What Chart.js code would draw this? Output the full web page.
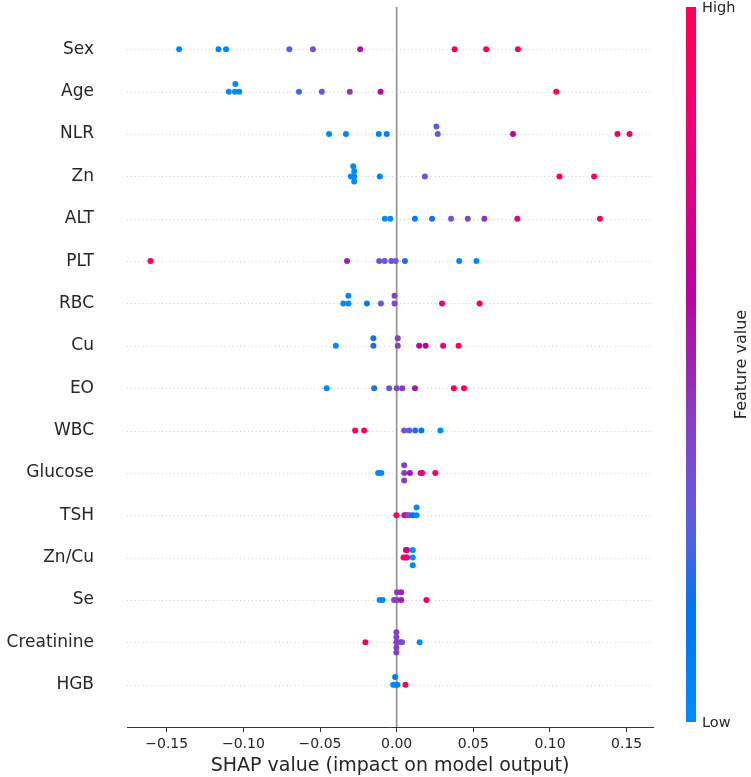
<!DOCTYPE html>
<html>
<head>
<meta charset="utf-8">
<title>SHAP summary</title>
<script src="https://cdn.jsdelivr.net/npm/chart.js@4.4.1/dist/chart.umd.min.js"></script>
<style>
  html, body { margin: 0; padding: 0; background: #fff; }
  #shapChart { display: block; }
</style>
</head>
<body>
<canvas id="shapChart" width="751" height="777"></canvas>
<script>
// feature order, top to bottom
const features = ['Sex', 'Age', 'NLR', 'Zn', 'ALT', 'PLT', 'RBC', 'Cu', 'EO', 'WBC',
                  'Glucose', 'TSH', 'Zn/Cu', 'Se', 'Creatinine', 'HGB'];

// SHAP values (x) and scaled feature values (0 = low, 1 = high) per feature
const sexShap = [-0.1419, -0.1162, -0.1113, -0.0700, -0.0546, -0.0238, 0.0378, 0.0584, 0.0791];
const sexFeat = [0, 0.02, 0.02, 0.28, 0.35, 0.55, 1, 1, 1];

const ageShap = [-0.1095, -0.1055, -0.1052, -0.1027, -0.0637, -0.0488, -0.0306, -0.0105, 0.1041];
const ageFeat = [0, 0, 0, 0, 0.22, 0.33, 0.45, 0.58, 1];

const nlrShap = [-0.0441, -0.0331, -0.0117, -0.0065, 0.0268, 0.0259, 0.0759, 0.1440, 0.1519];
const nlrFeat = [0, 0.03, 0.05, 0.08, 0.3, 0.28, 0.65, 0.95, 1];

const znShap = [-0.0299, -0.0277, -0.0277, -0.0277, -0.0283, -0.0110, 0.0184, 0.1062, 0.1288];
const znFeat = [0, 0, 0, 0, 0, 0.05, 0.3, 1, 0.95];

const altShap = [-0.0077, -0.0042, 0.0119, 0.0231, 0.0355, 0.0464, 0.0572, 0.0787, 0.1326];
const altFeat = [0, 0, 0.08, 0.2, 0.3, 0.38, 0.45, 0.8, 1];

const pltShap = [-0.1606, -0.0324, -0.0114, -0.0078, -0.0035, -0.0007, 0.0054, 0.0408, 0.0520];
const pltFeat = [1, 0.5, 0.3, 0.3, 0.33, 0.3, 0.2, 0.02, 0];

const rbcShap = [-0.0348, -0.0315, -0.0315, -0.0194, -0.0103, -0.0014, -0.0014, 0.0296, 0.0541];
const rbcFeat = [0, 0, 0, 0.1, 0.28, 0.4, 0.4, 0.8, 1];

const cuShap = [-0.0397, -0.0152, -0.0152, 0.0007, 0.0007, 0.0147, 0.0189, 0.0303, 0.0404];
const cuFeat = [0, 0.2, 0.2, 0.42, 0.42, 0.6, 0.62, 0.85, 1];

const eoShap = [-0.0457, -0.0147, -0.0049, 0.0000, 0.0037, 0.0119, 0.0373, 0.0439];
const eoFeat = [0, 0.2, 0.3, 0.4, 0.42, 0.55, 0.95, 0.95];

const wbcShap = [-0.0271, -0.0212, 0.0049, 0.0082, 0.0121, 0.0161, 0.0285];
const wbcFeat = [1, 0.95, 0.3, 0.3, 0.2, 0.1, 0];

const glucoseShap = [-0.0121, -0.0100, 0.0049, 0.0049, 0.0049, 0.0086, 0.0156, 0.0166, 0.0252];
const glucoseFeat = [0, 0, 0.42, 0.42, 0.42, 0.55, 0.8, 0.82, 0.95];

const tshShap = [-0.0002, 0.0050, 0.0058, 0.0072, 0.0085, 0.0106, 0.0130, 0.0130];
const tshFeat = [1, 0.7, 0.55, 0.42, 0.3, 0.15, 0, 0];

const znCuShap = [0.0045, 0.0060, 0.0060, 0.0068, 0.0068, 0.0105, 0.0105, 0.0105];
const znCuFeat = [1, 0.95, 0.85, 0.8, 0.75, 0, 0, 0];

const seShap = [-0.0111, -0.0092, -0.0017, 0.0002, 0.0002, 0.0030, 0.0030, 0.0194];
const seFeat = [0, 0.02, 0.4, 0.42, 0.42, 0.5, 0.5, 1];

const creatinineShap = [-0.0204, -0.0002, -0.0002, -0.0002, -0.0002, -0.0002, 0.0022, 0.0035, 0.0150];
const creatinineFeat = [1, 0.42, 0.42, 0.42, 0.42, 0.42, 0.4, 0.3, 0];

const hgbShap = [-0.0023, -0.0010, -0.0010, 0.0005, 0.0057];
const hgbFeat = [0, 0.05, 0.12, 0.05, 1];

const xTicks = [-0.15, -0.10, -0.05, 0, 0.05, 0.10, 0.15];
const xMin = -0.1759, xMax = 0.1672;

const rows = [
    [sexShap, sexFeat], [ageShap, ageFeat], [nlrShap, nlrFeat], [znShap, znFeat],
    [altShap, altFeat], [pltShap, pltFeat], [rbcShap, rbcFeat], [cuShap, cuFeat],
    [eoShap, eoFeat], [wbcShap, wbcFeat], [glucoseShap, glucoseFeat], [tshShap, tshFeat],
    [znCuShap, znCuFeat], [seShap, seFeat], [creatinineShap, creatinineFeat], [hgbShap, hgbFeat]
];

const N = features.length;
const FONT = "'DejaVu Sans', sans-serif";
const TEXT = '#262626';

// shap's red_blue colormap (interpolated in LCH space)
function lch2rgb(l, c, h) {
    const a = c * Math.cos(h), b = c * Math.sin(h);
    const fy = (l + 16) / 116, fx = fy + a / 500, fz = fy - b / 200;
    const finv = t => t > 6 / 29 ? t * t * t : 3 * (6 / 29) * (6 / 29) * (t - 4 / 29);
    const X = 0.95047 * finv(fx), Y = finv(fy), Z = 1.08883 * finv(fz);
    const lin = [
        3.2406 * X - 1.5372 * Y - 0.4986 * Z,
        -0.9689 * X + 1.8758 * Y + 0.0415 * Z,
        0.0557 * X - 0.2040 * Y + 1.0570 * Z
    ];
    return lin.map(v => {
        v = Math.min(1, Math.max(0, v));
        v = v <= 0.0031308 ? 12.92 * v : 1.055 * Math.pow(v, 1 / 2.4) - 0.055;
        return Math.min(1, Math.max(0, v));
    });
}

const cmapSteps = [];
for (let i = 0; i < 100; i++) {
    const l = i < 50 ? 54 + (40 - 54) * i / 49 : 40 + (54 - 40) * (i - 50) / 49;
    const c = 70 + 20 * i / 99;
    const h = 4.6588 + (0.35470565 + 2 * Math.PI - 4.6588) * i / 99;
    cmapSteps.push(lch2rgb(l, c, h));
}

function cmap(f) {
    const t = Math.min(1, Math.max(0, f)) * 99;
    const i = Math.min(98, Math.floor(t)), w = t - i;
    const rgb = cmapSteps[i].map((v, k) => Math.round(255 * (v + (cmapSteps[i + 1][k] - v) * w)));
    return `rgb(${rgb[0]}, ${rgb[1]}, ${rgb[2]})`;
}

// beeswarm layering like shap: bin the values, stack points sharing a bin
function swarmOffsets(vals) {
    const lo = Math.min(...vals), hi = Math.max(...vals);
    const quant = vals.map(v => Math.round(100 * (v - lo) / (hi - lo + 1e-8)));
    const order = vals.map((v, i) => i).sort((a, b) => quant[a] - quant[b]);
    const ys = new Array(vals.length).fill(0);
    let layer = 0, last = -1;
    order.forEach(i => {
        if (quant[i] !== last) layer = 0;
        ys[i] = Math.ceil(layer / 2) * ((layer % 2) * 2 - 1);
        layer++;
        last = quant[i];
    });
    const m = Math.max(...ys.map(y => y + 1));
    return ys.map(y => y * 0.9 * (0.4 / m));
}

const points = [];
const colors = [];
rows.forEach(([shap, feat], i) => {
    const offs = swarmOffsets(shap);
    shap.forEach((v, j) => {
        points.push({ x: v, y: (N - 1 - i) + offs[j] });
        colors.push(cmap(feat[j]));
    });
});

// dotted row lines, zero line and colour bar
const decorations = {
    id: 'decorations',
    beforeDatasetsDraw(chart) {
        const { ctx, chartArea, scales } = chart;
        ctx.save();
        ctx.strokeStyle = '#c4c4c4';
        ctx.lineWidth = 0.9;
        ctx.setLineDash([0.9, 3]);
        for (let i = 0; i < N; i++) {
            const y = Math.round(scales.y.getPixelForValue(i)) + 0.5;
            ctx.beginPath();
            ctx.moveTo(chartArea.left, y);
            ctx.lineTo(chartArea.right, y);
            ctx.stroke();
        }
        ctx.setLineDash([]);
        const x0 = scales.x.getPixelForValue(0);
        ctx.strokeStyle = '#999999';
        ctx.lineWidth = 1.8;
        ctx.beginPath();
        ctx.moveTo(x0, chartArea.top);
        ctx.lineTo(x0, chartArea.bottom);
        ctx.stroke();
        ctx.restore();
    },
    afterDraw(chart) {
        const { ctx, chartArea } = chart;
        const left = chartArea.right + 33, w = 10;
        const top = chartArea.top, bottom = chartArea.bottom - 5;
        ctx.save();
        const grad = ctx.createLinearGradient(0, bottom, 0, top);
        for (let i = 0; i <= 20; i++) grad.addColorStop(i / 20, cmap(i / 20));
        ctx.fillStyle = grad;
        ctx.fillRect(left, top, w, bottom - top);

        ctx.fillStyle = TEXT;
        ctx.font = `14.5px ${FONT}`;
        ctx.textAlign = 'left';
        ctx.textBaseline = 'middle';
        ctx.fillText('High', left + w + 6, top + 1);
        ctx.fillText('Low', left + w + 6, bottom + 1);

        ctx.font = `16px ${FONT}`;
        ctx.translate(left + w + 46, (top + bottom) / 2);
        ctx.rotate(-Math.PI / 2);
        ctx.textAlign = 'center';
        ctx.fillText('Feature value', 0, 0);
        ctx.restore();
    }
};

const ctx = document.getElementById('shapChart').getContext('2d');
const shapChart = new Chart(ctx, {
    type: 'scatter',
    data: {
        datasets: [{
            data: points,
            backgroundColor: colors,
            pointRadius: 3,
            pointHoverRadius: 3,
            borderWidth: 0
        }]
    },
    options: {
        responsive: false,
        animation: false,
        devicePixelRatio: 1,
        layout: { padding: { top: 7, right: 98, left: 0, bottom: 0 } },
        plugins: { legend: { display: false }, tooltip: { enabled: false } },
        scales: {
            x: {
                type: 'linear',
                min: xMin,
                max: xMax,
                afterBuildTicks: scale => { scale.ticks = xTicks.map(v => ({ value: v })); },
                afterFit: scale => { scale.height = 50; scale.paddingLeft = 0; scale.paddingRight = 0; },
                grid: { display: true, drawOnChartArea: false, drawTicks: true, tickLength: 5, color: '#333', lineWidth: 1 },
                border: { display: true, color: '#333', width: 1 },
                ticks: {
                    autoSkip: false,
                    maxRotation: 0,
                    padding: 4,
                    color: TEXT,
                    font: { family: FONT, size: 14 },
                    callback: v => v.toFixed(2).replace('-', '\u2212')
                },
                title: {
                    display: true,
                    text: 'SHAP value (impact on model output)',
                    color: TEXT,
                    font: { family: FONT, size: 19 },
                    padding: { top: 0, bottom: 0 }
                }
            },
            y: {
                type: 'linear',
                min: -1,
                max: N,
                afterBuildTicks: scale => { scale.ticks = features.map((f, i) => ({ value: i })); },
                afterFit: scale => { scale.width = 127; scale.paddingTop = 0; scale.paddingBottom = 0; },
                grid: { display: false, drawTicks: false },
                border: { display: false },
                ticks: {
                    autoSkip: false,
                    padding: 33,
                    color: TEXT,
                    font: { family: FONT, size: 17 },
                    callback: v => features[N - 1 - v]
                }
            }
        }
    },
    plugins: [decorations]
});
</script>
</body>
</html>
